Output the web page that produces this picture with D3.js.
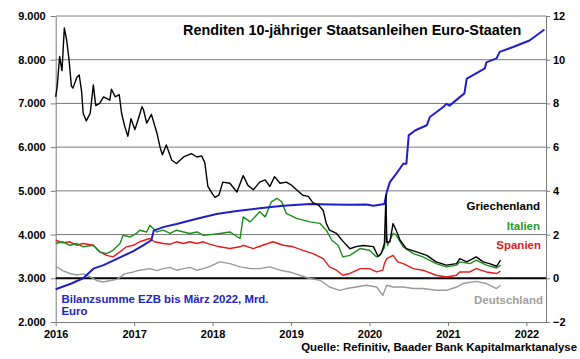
<!DOCTYPE html>
<html><head><meta charset="utf-8">
<script src="https://cdn.jsdelivr.net/npm/d3@7"></script>
<style>
body{margin:0;background:#fff}
svg{display:block}
text{font-family:Arial,"Liberation Sans",sans-serif;font-weight:bold}
</style>
</head><body>
<svg id="c" width="580" height="359"></svg>
<script>
// ---------- data ----------
const yearTicks = [2016, 2017, 2018, 2019, 2020, 2021, 2022];
const leftTicks = [2000, 3000, 4000, 5000, 6000, 7000, 8000, 9000];
const rightTicks = [-2, 0, 2, 4, 6, 8, 10, 12];
const seriesNames = ["Griechenland", "Italien", "Spanien", "Deutschland"];
const ecbLabel = ["Bilanzsumme EZB bis März 2022, Mrd.", "Euro"];
const titleText = "Renditen 10-jähriger Staatsanleihen Euro-Staaten";
const sourceText = "Quelle: Refinitiv, Baader Bank Kapitalmarktanalyse";

const greeceT = [2016.00,2016.02,2016.05,2016.08,2016.11,2016.14,2016.17,2016.20,2016.22,2016.27,2016.30,2016.33,2016.35,2016.39,2016.44,2016.48,2016.51,2016.56,2016.61,2016.69,2016.71,2016.76,2016.81,2016.84,2016.88,2016.92,2016.96,2017.01,2017.05,2017.10,2017.12,2017.16,2017.22,2017.29,2017.33,2017.36,2017.41,2017.48,2017.54,2017.63,2017.73,2017.80,2017.86,2017.90,2017.94,2018.00,2018.03,2018.08,2018.13,2018.22,2018.31,2018.39,2018.45,2018.52,2018.60,2018.67,2018.73,2018.79,2018.86,2018.94,2019.01,2019.07,2019.15,2019.22,2019.28,2019.35,2019.41,2019.45,2019.49,2019.58,2019.66,2019.75,2019.83,2019.92,2020.05,2020.11,2020.15,2020.19,2020.21,2020.22,2020.26,2020.30,2020.34,2020.39,2020.47,2020.60,2020.73,2020.85,2020.98,2021.11,2021.15,2021.24,2021.36,2021.45,2021.53,2021.62,2021.67];
const greeceV = [8.3,8.8,10.15,9.5,11.45,10.9,10.0,8.8,8.7,9.2,9.3,8.55,7.55,7.2,7.55,8.85,7.9,8.0,8.3,8.15,8.65,8.3,8.4,7.55,6.95,6.5,7.3,6.8,7.25,7.85,7.7,7.1,7.5,6.65,6.0,5.65,6.1,5.4,5.25,5.55,5.7,5.55,5.6,5.3,4.2,3.85,3.7,3.8,4.4,4.35,3.95,4.7,4.25,4.05,4.4,4.5,4.2,4.65,4.35,4.4,4.25,4.05,3.8,3.75,3.45,3.35,3.1,2.5,2.2,2.05,1.7,1.35,1.45,1.5,1.45,1.0,1.13,1.59,3.8,1.65,1.67,2.5,2.2,1.74,1.36,1.21,1.05,0.75,0.6,0.67,0.9,0.75,0.98,0.75,0.67,0.55,0.83];

const italyT = [2016.00,2016.09,2016.18,2016.27,2016.35,2016.48,2016.56,2016.65,2016.73,2016.82,2016.86,2016.95,2017.03,2017.07,2017.16,2017.20,2017.29,2017.37,2017.46,2017.54,2017.63,2017.71,2017.80,2017.88,2017.97,2018.09,2018.22,2018.35,2018.39,2018.48,2018.60,2018.67,2018.75,2018.82,2018.88,2018.94,2019.07,2019.24,2019.37,2019.45,2019.52,2019.60,2019.66,2019.75,2019.88,2020.00,2020.09,2020.13,2020.19,2020.21,2020.23,2020.30,2020.34,2020.43,2020.56,2020.68,2020.85,2020.98,2021.11,2021.15,2021.28,2021.36,2021.49,2021.62,2021.67];
const italyV = [1.59,1.67,1.51,1.59,1.44,1.51,1.21,1.13,1.28,1.59,1.97,1.89,2.05,2.2,2.12,2.43,2.12,2.2,2.05,2.2,2.12,2.05,2.12,1.97,2.0,2.05,2.12,1.82,2.81,2.58,3.04,2.81,3.5,3.66,3.5,2.97,2.74,2.58,2.51,2.2,1.74,1.51,0.98,1.05,1.36,1.28,0.98,1.05,1.4,2.2,1.5,2.05,1.97,1.44,1.13,0.98,0.67,0.52,0.6,0.75,0.67,0.83,0.6,0.47,0.6];

const spainT = [2016.00,2016.09,2016.18,2016.27,2016.35,2016.48,2016.56,2016.65,2016.73,2016.82,2016.90,2016.99,2017.07,2017.20,2017.26,2017.37,2017.46,2017.54,2017.63,2017.71,2017.80,2017.88,2017.97,2018.09,2018.22,2018.35,2018.39,2018.52,2018.64,2018.77,2018.90,2019.03,2019.15,2019.28,2019.41,2019.49,2019.58,2019.66,2019.75,2019.88,2020.00,2020.09,2020.17,2020.19,2020.22,2020.30,2020.36,2020.43,2020.56,2020.68,2020.85,2020.98,2021.11,2021.15,2021.28,2021.36,2021.49,2021.62,2021.67];
const spainV = [1.74,1.62,1.67,1.51,1.59,1.51,1.21,1.05,0.98,1.21,1.44,1.51,1.67,1.82,1.67,1.59,1.56,1.67,1.59,1.67,1.59,1.67,1.55,1.44,1.36,1.44,1.51,1.36,1.51,1.67,1.51,1.44,1.28,1.13,0.9,0.52,0.37,0.14,0.22,0.44,0.44,0.29,0.37,0.67,0.9,1.05,0.75,0.67,0.44,0.37,0.14,0.06,0.14,0.29,0.29,0.44,0.29,0.22,0.33];

const germanyT = [2016.00,2016.09,2016.18,2016.27,2016.35,2016.44,2016.52,2016.60,2016.70,2016.78,2016.88,2016.99,2017.07,2017.20,2017.29,2017.37,2017.46,2017.54,2017.63,2017.71,2017.80,2017.88,2017.97,2018.09,2018.22,2018.35,2018.48,2018.60,2018.73,2018.86,2018.98,2019.11,2019.24,2019.37,2019.49,2019.62,2019.71,2019.83,2019.96,2020.09,2020.17,2020.22,2020.30,2020.43,2020.56,2020.68,2020.85,2020.98,2021.11,2021.19,2021.36,2021.49,2021.62,2021.67];
const germanyV = [0.55,0.35,0.22,0.15,0.2,0.06,-0.1,-0.17,-0.1,-0.05,0.2,0.29,0.37,0.44,0.35,0.44,0.5,0.37,0.44,0.5,0.37,0.44,0.55,0.75,0.67,0.52,0.44,0.44,0.52,0.37,0.29,0.14,-0.01,-0.09,-0.4,-0.55,-0.47,-0.4,-0.32,-0.4,-0.78,-0.32,-0.4,-0.4,-0.47,-0.47,-0.55,-0.55,-0.4,-0.24,-0.14,-0.24,-0.47,-0.32];

const ecbT = [2016.00,2016.20,2016.35,2016.48,2016.61,2016.80,2016.99,2017.12,2017.22,2017.25,2017.37,2017.54,2017.80,2018.05,2018.31,2018.60,2018.90,2019.24,2019.50,2019.75,2019.96,2020.05,2020.19,2020.22,2020.26,2020.34,2020.43,2020.47,2020.50,2020.58,2020.73,2020.77,2020.83,2020.94,2020.98,2021.02,2021.21,2021.24,2021.36,2021.47,2021.49,2021.62,2021.66,2021.83,2022.04,2022.23];
const ecbV = [2750,2880,3000,3220,3300,3460,3620,3760,3870,4090,4170,4240,4360,4470,4540,4600,4660,4700,4690,4680,4690,4660,4700,4970,5200,5390,5620,5620,6270,6380,6500,6690,6770,6920,6990,6950,7230,7570,7690,7800,7940,8030,8180,8290,8440,8690];

// ---------- chart ----------
const svg = d3.select("#c");
const L = 55.7, R = 546, T = 16, B = 322;
const x = d3.scaleLinear().domain([2016, 2022.25]).range([L, R]);
const yL = d3.scaleLinear().domain([2000, 9000]).range([B, T]);
const yR = d3.scaleLinear().domain([-2, 12]).range([B, T]);
const de = d3.formatLocale({decimal: ",", thousands: ".", grouping: [3], currency: ["", " €"]});
const fmtL = de.format(",d");
const gridCol = "#7a7a7a";

// gridlines
svg.append("g").selectAll("line").data(leftTicks.filter(d => d !== 2000 && d !== 3000))
  .join("line").attr("x1", L).attr("x2", R).attr("y1", d => yL(d)).attr("y2", d => yL(d))
  .attr("stroke", gridCol).attr("stroke-width", 1);

// axes
const axL = svg.append("g").attr("transform", `translate(${L},0)`)
  .call(d3.axisLeft(yL).tickValues(leftTicks).tickFormat(fmtL).tickSize(5).tickSizeOuter(0).tickPadding(5));
const axR = svg.append("g").attr("transform", `translate(${R},0)`)
  .call(d3.axisRight(yR).tickValues(rightTicks).tickFormat(d3.format("d")).tickSize(4).tickSizeOuter(0).tickPadding(3));
const axB = svg.append("g").attr("transform", `translate(0,${B})`)
  .call(d3.axisBottom(x).tickValues(yearTicks).tickFormat(d3.format("d")).tickSize(4).tickSizeOuter(0).tickPadding(4));
[axL, axR, axB].forEach(g => {
  g.selectAll("path,line").attr("stroke", gridCol).attr("stroke-width", 1);
  g.selectAll("text").attr("fill", "#000").style("font-size", "11px").style("font-weight", "bold")
   .style("font-family", 'Arial,"Liberation Sans",sans-serif');
});

// zero line
svg.append("line").attr("x1", L).attr("x2", R).attr("y1", yR(0)).attr("y2", yR(0))
  .attr("stroke", "#000").attr("stroke-width", 2);

function pts(ts, vs) { return ts.map((t, i) => [t, vs[i]]); }
const lineR = d3.line().x(d => x(d[0])).y(d => yR(d[1]));
const lineL = d3.line().x(d => x(d[0])).y(d => yL(d[1]));

const yieldSeries = [
  {t: germanyT, v: germanyV, c: "#9a9a9a"},
  {t: spainT, v: spainV, c: "#e31b1b"},
  {t: italyT, v: italyV, c: "#1e8c1e"}
];
yieldSeries.forEach(s => {
  svg.append("path").datum(pts(s.t, s.v)).attr("d", lineR)
    .attr("fill", "none").attr("stroke", s.c).attr("stroke-width", 1.4).attr("stroke-linejoin", "round");
});
svg.append("path").datum(pts(ecbT, ecbV)).attr("d", lineL)
  .attr("fill", "none").attr("stroke", "#1f1fc6").attr("stroke-width", 2).attr("stroke-linejoin", "round");
svg.append("path").datum(pts(greeceT, greeceV)).attr("d", lineR)
  .attr("fill", "none").attr("stroke", "#000").attr("stroke-width", 1.4).attr("stroke-linejoin", "round");

// title
svg.append("text").attr("x", 183).attr("y", 35).style("font-size", "14.4px").attr("fill", "#000").text(titleText);

// series labels
const labels = [
  {t: seriesNames[0], x: 540, y: 210, c: "#000"},
  {t: seriesNames[1], x: 540, y: 230, c: "#2a9a2a"},
  {t: seriesNames[2], x: 541, y: 248.5, c: "#e31b1b"},
  {t: seriesNames[3], x: 543, y: 303.5, c: "#a0a0a0"}
];
svg.append("g").selectAll("text").data(labels).join("text")
  .attr("x", d => d.x).attr("y", d => d.y).attr("text-anchor", "end")
  .style("font-size", "11.5px").attr("fill", d => d.c).text(d => d.t);

// ECB label
svg.append("g").selectAll("text").data(ecbLabel).join("text")
  .attr("x", 61.5).attr("y", (d, i) => 302.7 + i * 12.5)
  .style("font-size", "11.4px").attr("fill", "#2323c0").text(d => d);

// source
svg.append("text").attr("x", 577).attr("y", 351).attr("text-anchor", "end")
  .style("font-size", "11.4px").attr("fill", "#000").text(sourceText);
</script>
</body></html>
